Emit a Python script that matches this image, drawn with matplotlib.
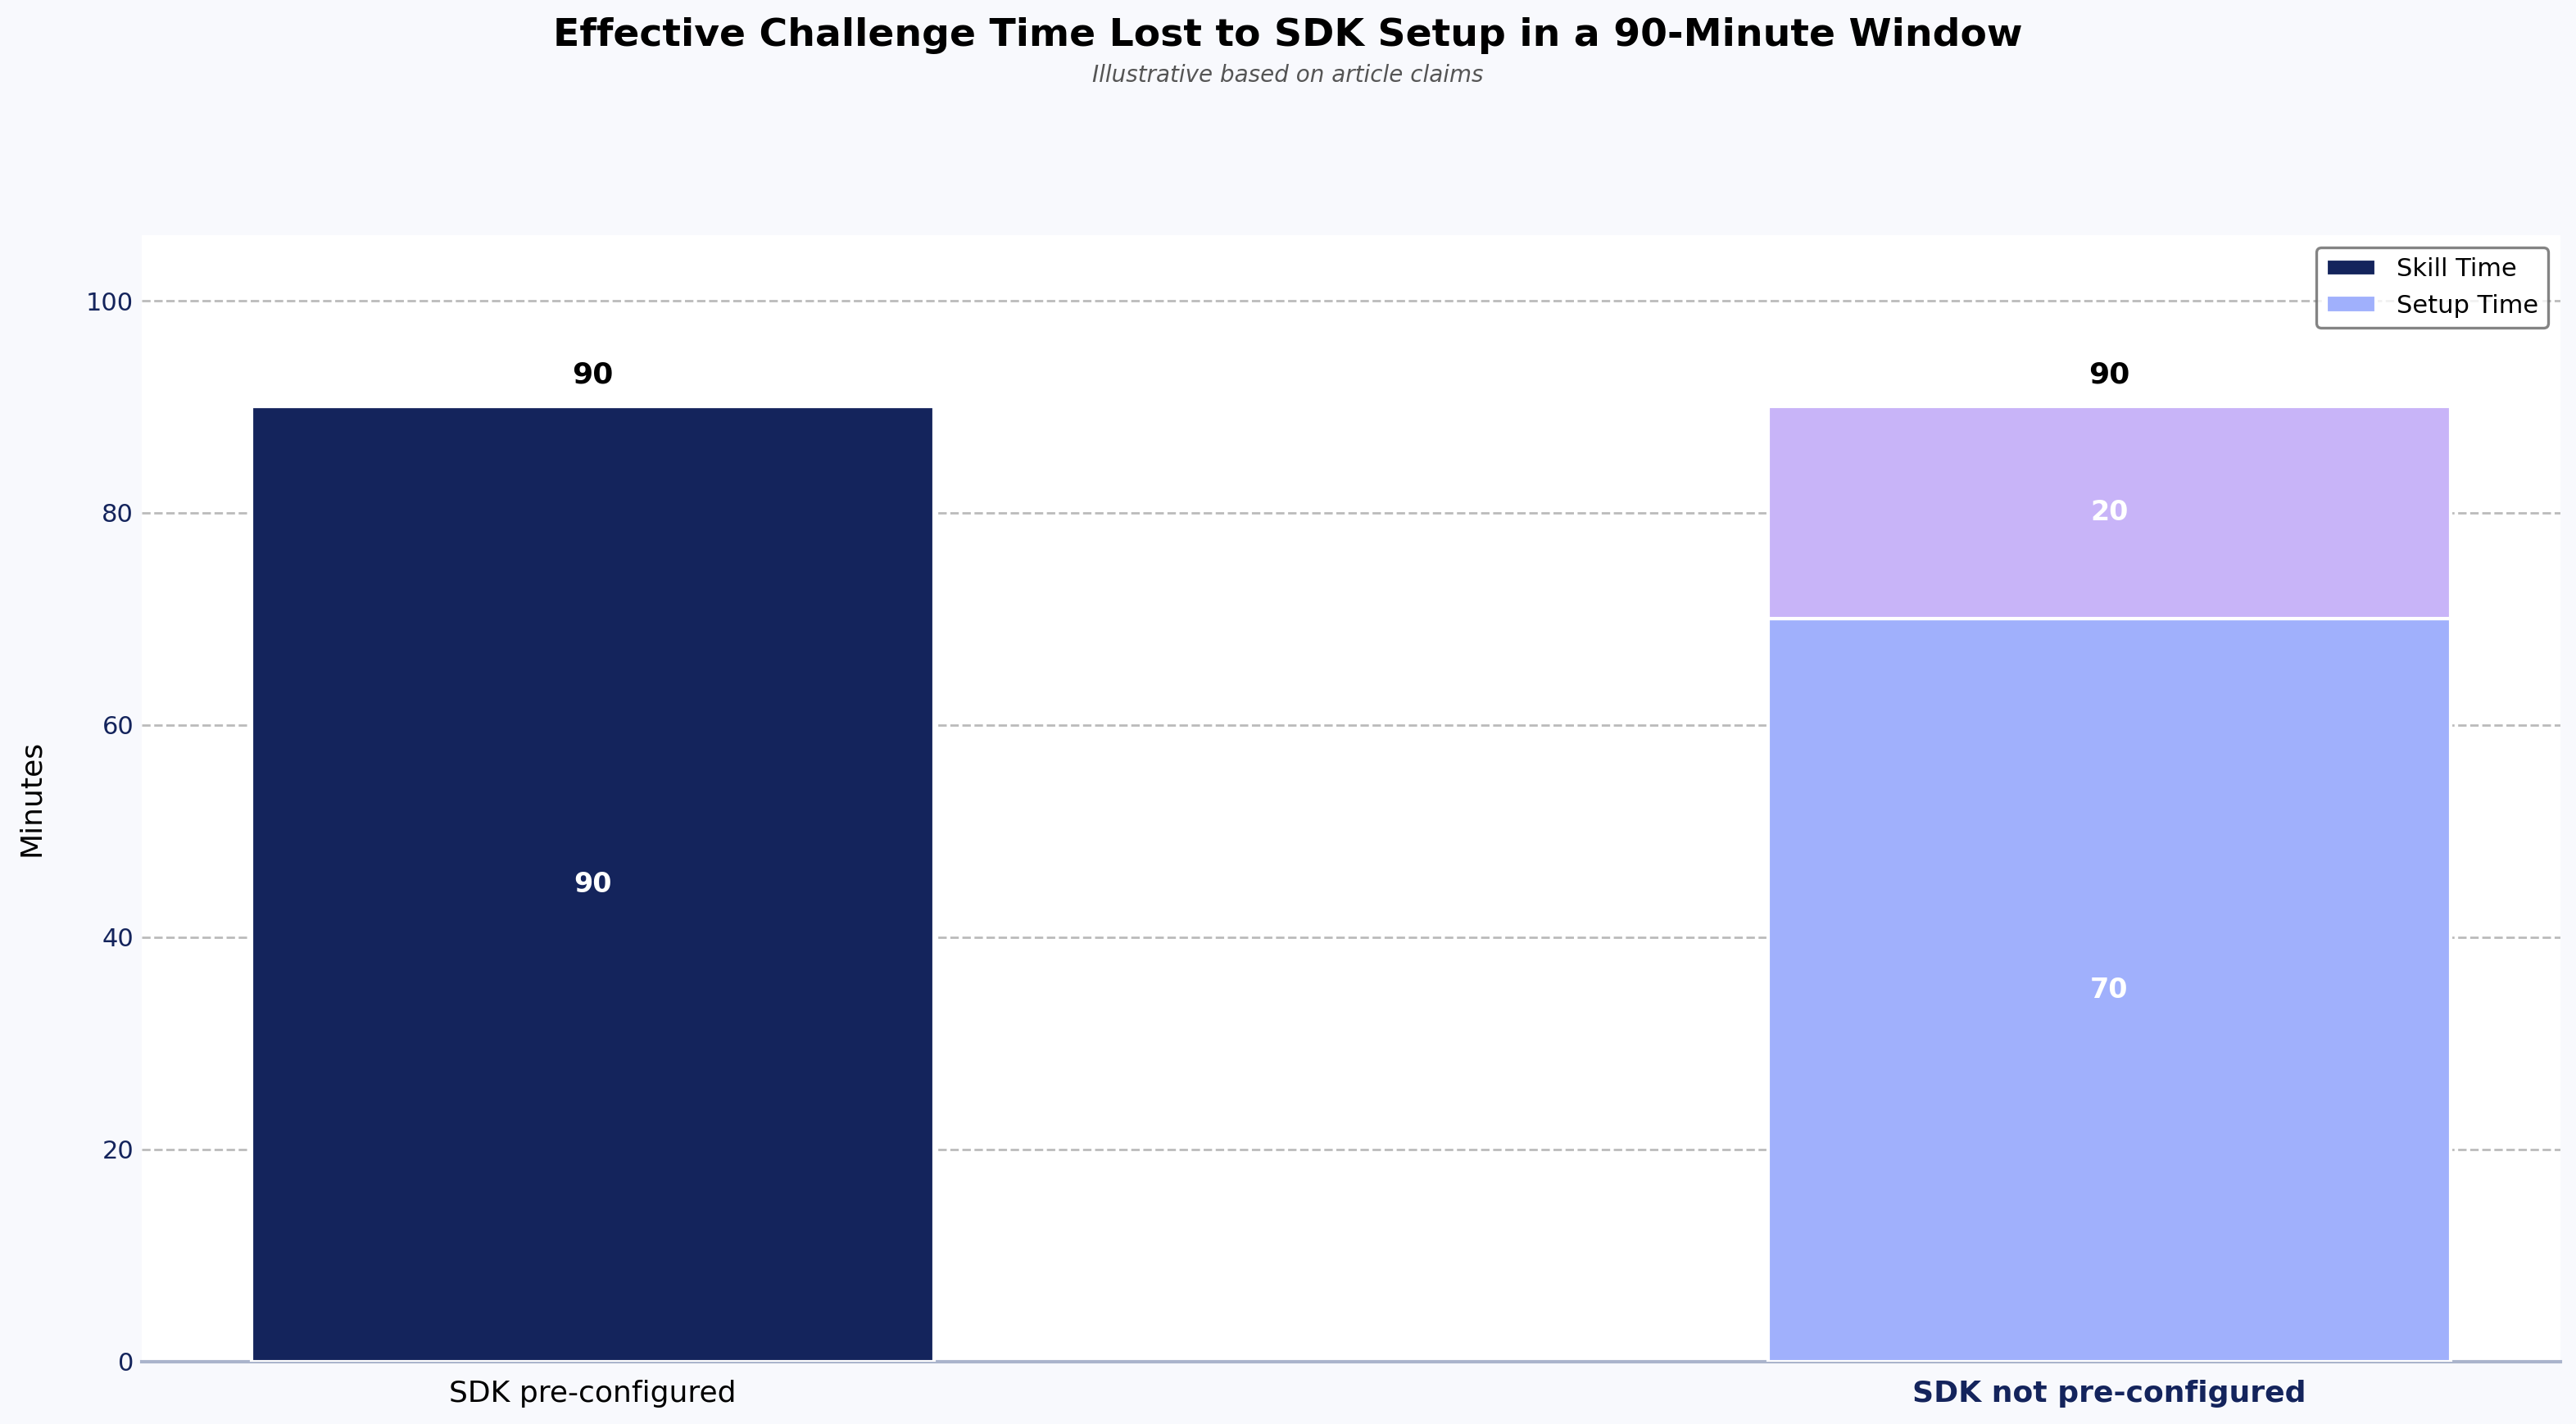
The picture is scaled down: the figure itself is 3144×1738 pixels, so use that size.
import numpy as np
import matplotlib.pyplot as plt

# Data
categories = ['SDK pre-configured', 'SDK not pre-configured']
skill_time = [90, 70]
setup_time = [0, 20]
totals = [s + t for s, t in zip(skill_time, setup_time)]

navy = '#14245C'
light_blue = '#A0B0FC'
lavender = '#C8B4F8'

fig, ax = plt.subplots(figsize=(15.72, 8.69), dpi=200)
fig.patch.set_facecolor('#F8F9FD')
ax.set_facecolor('white')

x = np.arange(len(categories))
width = 0.45

bottom_colors = [navy, light_blue]
top_colors = [lavender, lavender]

bars1 = ax.bar(x, skill_time, width, color=bottom_colors, edgecolor='white',
               linewidth=1.5, label='Skill Time', zorder=3)
bars2 = ax.bar(x, setup_time, width, bottom=skill_time, color=top_colors,
               edgecolor='white', linewidth=1.5, label='Setup Time', zorder=3)

# segment labels
for i in range(len(categories)):
    if skill_time[i] > 0:
        ax.text(x[i], skill_time[i] / 2, str(skill_time[i]), ha='center', va='center',
                color='white', fontsize=12, fontweight='bold', zorder=4)
    if setup_time[i] > 0:
        ax.text(x[i], skill_time[i] + setup_time[i] / 2, str(setup_time[i]),
                ha='center', va='center', color='white', fontsize=12,
                fontweight='bold', zorder=4)
    ax.text(x[i], totals[i] + 3.0, str(totals[i]), ha='center', va='center',
            color='black', fontsize=13, fontweight='bold', zorder=4)

ax.set_ylim(0, max(totals) * 1.18)
ax.set_xticks(x)
ax.set_xticklabels(categories, fontsize=13)
xt = ax.get_xticklabels()
xt[1].set_fontweight('bold')
xt[1].set_color(navy)
ax.tick_params(axis='both', length=0)
ax.tick_params(axis='y', labelcolor=navy, labelsize=11)
ax.tick_params(axis='x', pad=8)
ax.set_ylabel('Minutes', fontsize=13, labelpad=18)

ax.grid(axis='y', linestyle='--', color='#BBBBBB', linewidth=1, zorder=0)
for s in ['top', 'right', 'left']:
    ax.spines[s].set_visible(False)
ax.spines['bottom'].set_color('#AAB4CC')
ax.spines['bottom'].set_linewidth(1.5)

leg = ax.legend(handles=[bars1[0], bars2[0]], labels=['Skill Time', 'Setup Time'],
                loc='upper right', fontsize=11, frameon=True)
leg.get_frame().set_edgecolor('#666666')
leg.get_frame().set_linewidth(1.2)
# legend patch for setup shows the light blue colour
leg.get_patches()[1].set_facecolor(light_blue)

fig.text(0.5, 0.975, 'Effective Challenge Time Lost to SDK Setup in a 90-Minute Window',
         ha='center', va='center', fontsize=17, fontweight='bold')
fig.text(0.5, 0.947, 'Illustrative based on article claims', ha='center',
         va='center', fontsize=10, style='italic', color='#555555')

plt.subplots_adjust(left=0.055, right=0.994, top=0.835, bottom=0.044)
fig.savefig('out.png', dpi=200, facecolor=fig.get_facecolor())
